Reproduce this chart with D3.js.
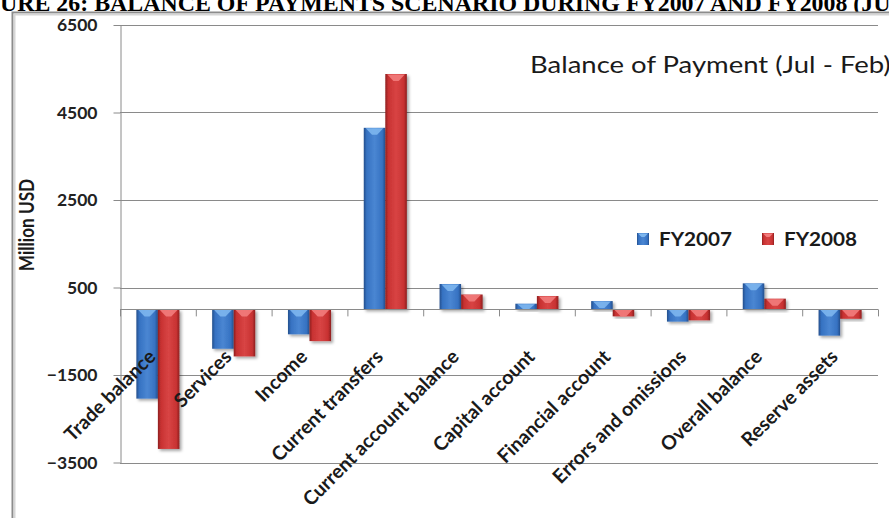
<!DOCTYPE html>
<html>
<head>
<meta charset="utf-8">
<script src="https://cdn.jsdelivr.net/npm/d3@7"></script>
<style>
  html, body { margin: 0; padding: 0; background: #fff; overflow: hidden; }
  svg { display: block; }
</style>
</head>
<body>
<svg id="chart" width="889" height="518"></svg>
<script>
// Balance of payments, Jul - Feb, million USD
const categories = [
  "Trade balance", "Services", "Income", "Current transfers",
  "Current account balance", "Capital account", "Financial account",
  "Errors and omissions", "Overall balance", "Reserve assets"
];
const seriesNames = ["FY2007", "FY2008"];
const fy2007 = [-2040, -900, -570, 4150, 580, 130, 190, -280, 595, -600];
const fy2008 = [-3190, -1075, -725, 5380, 340, 305, -160, -250, 245, -215];
const yTicks = [-3500, -1500, 500, 2500, 4500, 6500];

const figureTitle = "FIGURE 26: BALANCE OF PAYMENTS SCENARIO DURING FY2007 AND FY2008 (JUL-FEB)";
const chartTitle = "Balance of Payment (Jul - Feb)";
const yLabel = "Million USD";

const seriesValues = [fy2007, fy2008];
const palette = {
  FY2007: { dark: "#244f8c", base: "#3672c2", mid: "#4a86d2", light: "#7db6ee" },
  FY2008: { dark: "#8e1f1f", base: "#c83232", mid: "#d84444", light: "#f27c7c" }
};
const sans = "Lato, 'Open Sans', sans-serif";

const svg = d3.select("#chart");
const W = 889, H = 518;
const plot = { left: 120, right: 878, top: 25, bottom: 462.5 };

const defs = svg.append("defs");
seriesNames.forEach(s => {
  const c = palette[s];
  const g = defs.append("linearGradient").attr("id", "grad-" + s)
    .attr("x1", "0").attr("x2", "1").attr("y1", "0").attr("y2", "0");
  [[0, c.dark], [0.14, c.base], [0.5, c.mid], [0.86, c.base], [1, c.dark]]
    .forEach(([o, col]) => g.append("stop").attr("offset", o).attr("stop-color", col));
});
const shadow = defs.append("filter").attr("id", "barShadow")
  .attr("x", "-20%").attr("y", "-20%").attr("width", "150%").attr("height", "150%");
shadow.append("feDropShadow").attr("dx", 2).attr("dy", 2)
  .attr("stdDeviation", 1.6).attr("flood-color", "#000").attr("flood-opacity", 0.35);

// Figure caption running across the top edge of the page
const cap = svg.append("text")
  .attr("y", 10.5)
  .attr("font-family", "'Liberation Serif', 'Times New Roman', serif")
  .attr("font-weight", "bold")
  .attr("font-size", 20)
  .attr("fill", "#000")
  .text(figureTitle);
{
  const node = cap.node();
  const cut = figureTitle.indexOf("(JU") + 3;
  const lead = node.getSubStringLength(0, 3);
  const span = node.getSubStringLength(0, cut) - lead;
  const size = 20 * (W + 2) / span;
  cap.attr("font-size", size);
  cap.attr("x", -node.getSubStringLength(0, 3));
}

// Chart frame
svg.append("rect")
  .attr("x", 12.5).attr("y", 12.5).attr("width", 900).attr("height", 600)
  .attr("fill", "#fff").attr("stroke", "#8c8c8c").attr("stroke-width", 2);
svg.append("path")
  .attr("d", `M14.5,${H} V14.5 H${W}`)
  .attr("fill", "none").attr("stroke", "#d6d6d6").attr("stroke-width", 2);

// Scales
const y = d3.scaleLinear().domain([-3500, 6500]).range([plot.bottom, plot.top]);
const x0 = d3.scaleBand().domain(categories).range([plot.left, plot.right]).padding(0);
const x1 = d3.scaleBand().domain(seriesNames).range([0, x0.bandwidth()])
  .paddingInner(0).paddingOuter(0.76);

// Gridlines
svg.append("g").selectAll("line").data(yTicks).join("line")
  .attr("x1", plot.left).attr("x2", plot.right)
  .attr("y1", d => Math.round(y(d)) + 0.5).attr("y2", d => Math.round(y(d)) + 0.5)
  .attr("stroke", "#8a8a8a").attr("stroke-width", 1);

// Value axis
const yAxis = svg.append("g")
  .attr("transform", `translate(${plot.left + 0.5},0)`)
  .call(d3.axisLeft(y).tickValues(yTicks).tickSize(7).tickSizeOuter(0).tickPadding(16).tickFormat(d3.format("d")));
yAxis.select(".domain").attr("stroke", "#8a8a8a");
yAxis.selectAll(".tick line").attr("stroke", "#8a8a8a");
yAxis.selectAll(".tick text")
  .attr("font-family", sans)
  .attr("font-weight", "bold").attr("font-size", 17.5).attr("fill", "#222");

// Bars
const barsData = [];
categories.forEach((c, i) => seriesNames.forEach((s, j) => {
  barsData.push({ cat: c, series: s, value: seriesValues[j][i] });
}));

const bars = svg.append("g").selectAll("g.bar").data(barsData).join("g").attr("class", "bar");
bars.append("rect")
  .attr("x", d => x0(d.cat) + x1(d.series))
  .attr("width", x1.bandwidth())
  .attr("y", d => y(Math.max(0, d.value)))
  .attr("height", d => Math.abs(y(d.value) - y(0)))
  .attr("fill", d => `url(#grad-${d.series})`)
  .attr("filter", "url(#barShadow)");
bars.append("path")
  .attr("d", d => {
    const bx = x0(d.cat) + x1(d.series), bw = x1.bandwidth();
    const top = y(Math.max(0, d.value));
    const h = Math.abs(y(d.value) - y(0));
    const ch = Math.min(7, h);
    return `M${bx + 2},${top + 0.5} L${bx + bw - 2},${top + 0.5} L${bx + bw * 0.62},${top + ch} L${bx + bw * 0.38},${top + ch} Z`;
  })
  .attr("fill", d => palette[d.series].light)
  .attr("opacity", 0.9);

// Category axis on the zero line
svg.append("line")
  .attr("x1", plot.left).attr("x2", plot.right)
  .attr("y1", Math.round(y(0)) + 0.5).attr("y2", Math.round(y(0)) + 0.5)
  .attr("stroke", "#8a8a8a");
svg.append("g").selectAll("line")
  .data(d3.range(categories.length + 1))
  .join("line")
  .attr("x1", i => plot.left + i * x0.step() + 0.5)
  .attr("x2", i => plot.left + i * x0.step() + 0.5)
  .attr("y1", y(0)).attr("y2", y(0) + 7)
  .attr("stroke", "#8a8a8a");

// Rotated category labels
svg.append("g").selectAll("text").data(categories).join("text")
  .attr("transform", d => `translate(${x0(d) + x0.bandwidth() / 2 - 1},358) rotate(-45)`)
  .attr("text-anchor", "end")
  .attr("font-family", sans)
  .attr("font-weight", "bold").attr("font-size", 19.5).attr("fill", "#1a1a1a")
  .text(d => d);

// Titles
svg.append("text")
  .attr("transform", "translate(530,73) scale(1.17,1)")
  .attr("font-family", sans)
  .attr("font-size", 23.5).attr("fill", "#1a1a1a")
  .text(chartTitle);
svg.append("text")
  .attr("transform", "translate(34,225) rotate(-90) scale(0.8,1)")
  .attr("text-anchor", "middle")
  .attr("font-family", sans)
  .attr("font-weight", "bold").attr("font-size", 21.5).attr("fill", "#1a1a1a")
  .text(yLabel);

// Legend
const legendX = [637, 762];
const legend = svg.append("g").selectAll("g").data(seriesNames).join("g")
  .attr("transform", (d, i) => `translate(${legendX[i]},233)`);
legend.append("rect").attr("width", 12).attr("height", 12)
  .attr("fill", d => `url(#grad-${d})`);
legend.append("path").attr("d", "M1,0.5 L11,0.5 L7.5,4 L4.5,4 Z")
  .attr("fill", d => palette[d].light);
legend.append("text")
  .attr("transform", "translate(22,13) scale(1.15,1)")
  .attr("font-family", sans)
  .attr("font-weight", "bold").attr("font-size", 18).attr("fill", "#1a1a1a")
  .text(d => d);
</script>
</body>
</html>
